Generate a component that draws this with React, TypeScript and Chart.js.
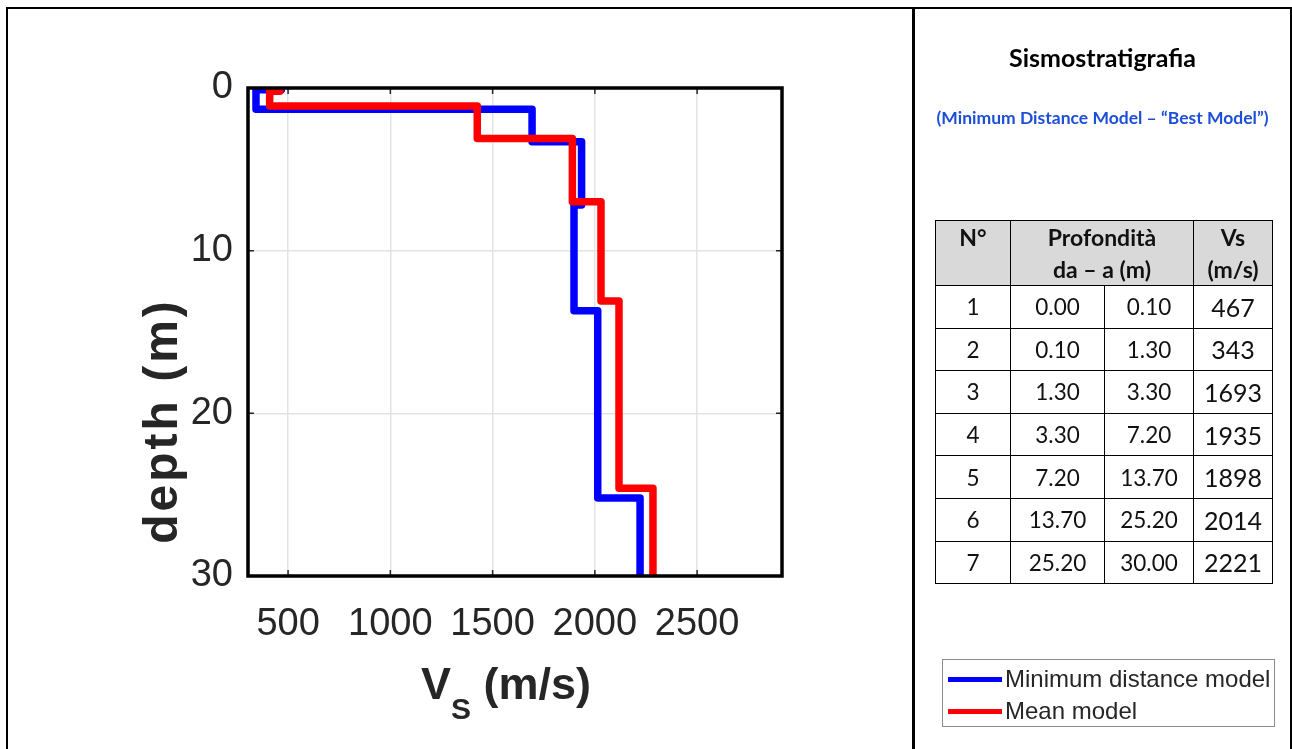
import React, { useEffect, useRef } from "react";
import { Chart, registerables } from "chart.js";

Chart.register(...registerables);

// Minimum distance ("best") model layers
const LAYER_TOP = [0.0, 0.1, 1.3, 3.3, 7.2, 13.7, 25.2];
const LAYER_BOTTOM = [0.1, 1.3, 3.3, 7.2, 13.7, 25.2, 30.0];
const VS_BEST = [467, 343, 1693, 1935, 1898, 2014, 2221];

// Mean model layers
const MEAN_TOP = [0.0, 0.2, 1.1, 3.1, 7.0, 13.1, 24.6];
const MEAN_BOTTOM = [0.2, 1.1, 3.1, 7.0, 13.1, 24.6, 30.0];
const VS_MEAN = [460, 410, 1425, 1890, 2030, 2118, 2284];

const X_TICKS = [500, 1000, 1500, 2000, 2500];
const Y_TICKS = [0, 10, 20, 30];
const X_MIN = 304;
const X_MAX = 2915;
const Y_MIN = 0;
const Y_MAX = 30;

const SERIES_LABELS = ["Minimum distance model", "Mean model"];
const SERIES_COLORS = ["#0000ff", "#ff0000"];

function profile(tops: number[], bottoms: number[], vs: number[]) {
  const pts: { x: number; y: number }[] = [];
  vs.forEach((v, i) => {
    pts.push({ x: v, y: tops[i] });
    pts.push({ x: v, y: bottoms[i] });
  });
  return pts;
}

const boxPlugin = {
  id: "matlabBox",
  afterDatasetsDraw(chart: any) {
    const { ctx, chartArea, scales } = chart;
    const { left, right, top, bottom } = chartArea;
    ctx.save();
    ctx.strokeStyle = "#262626";
    ctx.lineWidth = 1.5;
    const tl = 6;
    X_TICKS.forEach((v) => {
      const x = scales.x.getPixelForValue(v);
      ctx.beginPath();
      ctx.moveTo(x, top);
      ctx.lineTo(x, top + tl);
      ctx.moveTo(x, bottom);
      ctx.lineTo(x, bottom - tl);
      ctx.stroke();
    });
    Y_TICKS.forEach((v) => {
      const y = scales.y.getPixelForValue(v);
      ctx.beginPath();
      ctx.moveTo(left, y);
      ctx.lineTo(left + tl, y);
      ctx.moveTo(right, y);
      ctx.lineTo(right - tl, y);
      ctx.stroke();
    });
    ctx.strokeStyle = "#000000";
    ctx.lineWidth = 3.5;
    ctx.strokeRect(left, top, right - left, bottom - top);
    ctx.restore();
  },
};

function VsChart() {
  const ref = useRef<HTMLCanvasElement | null>(null);
  useEffect(() => {
    if (!ref.current) return;
    const tickFont = { family: "'Liberation Sans', Arial, sans-serif", size: 38 };
    const chart = new Chart(ref.current, {
      type: "scatter",
      data: {
        datasets: [
          {
            label: SERIES_LABELS[1],
            data: profile(MEAN_TOP, MEAN_BOTTOM, VS_MEAN),
            showLine: true,
            borderColor: SERIES_COLORS[1],
            backgroundColor: SERIES_COLORS[1],
            borderWidth: 7.5,
            pointRadius: 0,
            borderJoinStyle: "round",
            tension: 0,
          },
          {
            label: SERIES_LABELS[0],
            data: profile(LAYER_TOP, LAYER_BOTTOM, VS_BEST),
            showLine: true,
            borderColor: SERIES_COLORS[0],
            backgroundColor: SERIES_COLORS[0],
            borderWidth: 7.5,
            pointRadius: 0,
            borderJoinStyle: "round",
            tension: 0,
          },
        ],
      },
      options: {
        animation: false,
        responsive: false,
        maintainAspectRatio: false,
        layout: { padding: { top: 88, right: 131, bottom: 0, left: 0 } },
        plugins: { legend: { display: false }, tooltip: { enabled: false } },
        scales: {
          x: {
            type: "linear",
            min: X_MIN,
            max: X_MAX,
            position: "bottom",
            afterBuildTicks: (s: any) => {
              s.ticks = X_TICKS.map((v) => ({ value: v }));
            },
            afterFit: (s: any) => {
              s.height = 173;
            },
            grid: { color: "#e3e3e3", lineWidth: 1.5, drawTicks: false },
            border: { display: false },
            ticks: {
              padding: 26,
              font: tickFont,
              color: "#262626",
              maxRotation: 0,
              autoSkip: false,
              callback: (v: any) => String(v),
            },
          },
          y: {
            type: "linear",
            min: Y_MIN,
            max: Y_MAX,
            reverse: true,
            afterBuildTicks: (s: any) => {
              s.ticks = Y_TICKS.map((v) => ({ value: v }));
            },
            afterFit: (s: any) => {
              s.width = 248;
            },
            grid: { color: "#e3e3e3", lineWidth: 1.5, drawTicks: false },
            border: { display: false },
            ticks: {
              padding: 15,
              font: tickFont,
              color: "#262626",
              autoSkip: false,
              callback: (v: any) => String(v),
            },
          },
        },
      },
      plugins: [boxPlugin],
    } as any);
    return () => chart.destroy();
  }, []);
  return (
    <canvas
      ref={ref}
      width={913}
      height={749}
      style={{ position: "absolute", left: 0, top: 0, width: 913, height: 749 }}
    />
  );
}

const cell: React.CSSProperties = {
  border: "1.5px solid #000",
  textAlign: "center",
  padding: 0,
  fontFamily: "Lato, 'Open Sans', sans-serif",
  color: "#111",
};

export default function App() {
  const rows = VS_BEST.map((v, i) => ({
    n: i + 1,
    from: LAYER_TOP[i].toFixed(2),
    to: LAYER_BOTTOM[i].toFixed(2),
    vs: v,
  }));
  const head: React.CSSProperties = {
    ...cell,
    fontWeight: "bold",
    fontSize: 23,
    verticalAlign: "top",
    lineHeight: "32px",
  };
  return (
    <div
      style={{
        position: "fixed",
        left: 0,
        top: 0,
        width: 1292,
        height: 749,
        background: "#fff",
        overflow: "hidden",
      }}
    >
      <VsChart />
      {/* outer frame */}
      <div
        style={{
          position: "absolute",
          left: 6,
          top: 7,
          width: 1282,
          height: 760,
          borderLeft: "2.5px solid #000",
          borderTop: "2.5px solid #000",
          borderRight: "2.5px solid #000",
        }}
      />
      <div style={{ position: "absolute", left: 912, top: 7, width: 2.5, height: 760, background: "#000" }} />

      {/* axis titles */}
      <div
        style={{
          position: "absolute",
          left: 161,
          top: 421,
          transform: "translate(-50%, -50%) rotate(-90deg)",
          whiteSpace: "nowrap",
          fontFamily: "'Liberation Sans', Arial, sans-serif",
          fontWeight: "bold",
          fontSize: 48,
          letterSpacing: 3,
          lineHeight: "48px",
          color: "#262626",
        }}
      >
        depth (m)
      </div>
      <div
        style={{
          position: "absolute",
          left: 421,
          top: 661,
          whiteSpace: "nowrap",
          fontFamily: "'Liberation Sans', Arial, sans-serif",
          fontWeight: "bold",
          fontSize: 45,
          lineHeight: "45px",
          color: "#262626",
        }}
      >
        V<span style={{ fontSize: 30, position: "relative", top: 20 }}>S</span> (m/s)
      </div>

      {/* right panel */}
      <div
        style={{
          position: "absolute",
          left: 915,
          top: 42,
          width: 375,
          textAlign: "center",
          fontFamily: "Lato, 'Open Sans', sans-serif",
          fontWeight: "bold",
          fontSize: 25,
          color: "#000",
        }}
      >
        Sismostratigrafia
      </div>
      <div
        style={{
          position: "absolute",
          left: 915,
          top: 107,
          width: 375,
          textAlign: "center",
          fontFamily: "Lato, 'Open Sans', sans-serif",
          fontWeight: "bold",
          fontSize: 17.5,
          color: "#1d4fd6",
        }}
      >
        (Minimum Distance Model – “Best Model”)
      </div>

      <table
        style={{
          position: "absolute",
          left: 935,
          top: 220,
          width: 337,
          borderCollapse: "collapse",
          tableLayout: "fixed",
        }}
      >
        <colgroup>
          <col style={{ width: 75 }} />
          <col style={{ width: 94 }} />
          <col style={{ width: 89 }} />
          <col style={{ width: 79 }} />
        </colgroup>
        <tbody>
          <tr style={{ height: 65, background: "#d9d9d9" }}>
            <td style={head}>N°</td>
            <td colSpan={2} style={head}>
              Profondità
              <br />
              da – a (m)
            </td>
            <td style={head}>
              Vs
              <br />
              (m/s)
            </td>
          </tr>
          {rows.map((r) => (
            <tr key={r.n} style={{ height: 42.6 }}>
              <td style={{ ...cell, fontSize: 22.5 }}>{r.n}</td>
              <td style={{ ...cell, fontSize: 22.5 }}>{r.from}</td>
              <td style={{ ...cell, fontSize: 22.5 }}>{r.to}</td>
              <td style={{ ...cell, fontSize: 25 }}>{r.vs}</td>
            </tr>
          ))}
        </tbody>
      </table>

      {/* legend */}
      <div
        style={{
          position: "absolute",
          left: 942,
          top: 659,
          width: 331,
          height: 66,
          border: "1px solid #8c8c8c",
          fontFamily: "'Liberation Sans', Arial, sans-serif",
          fontSize: 24,
          color: "#262626",
        }}
      >
        {SERIES_LABELS.map((lab, i) => (
          <div key={lab} style={{ position: "absolute", left: 0, top: 5 + i * 32, height: 28, width: 331 }}>
            <div
              style={{
                position: "absolute",
                left: 5,
                top: 12,
                width: 54,
                height: 5,
                background: SERIES_COLORS[i],
              }}
            />
            <div style={{ position: "absolute", left: 62, top: 0, lineHeight: "28px", whiteSpace: "nowrap" }}>{lab}</div>
          </div>
        ))}
      </div>
    </div>
  );
}
